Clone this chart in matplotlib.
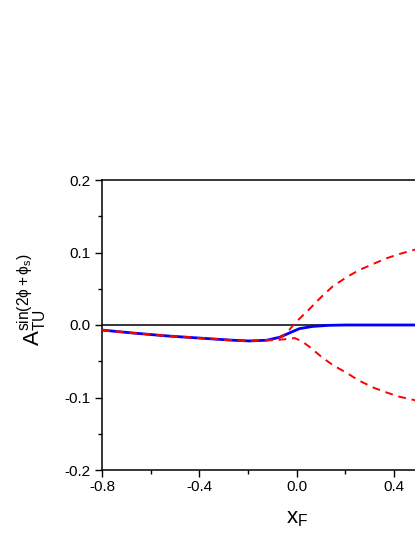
import matplotlib
matplotlib.use("Agg")
import matplotlib.pyplot as plt
from matplotlib.ticker import MultipleLocator

plt.rcParams['font.family'] = ['Liberation Sans', 'DejaVu Sans']
plt.rcParams['mathtext.fontset'] = 'custom'
plt.rcParams['mathtext.rm'] = 'Liberation Sans'
plt.rcParams['mathtext.it'] = 'Liberation Sans:italic'
plt.rcParams['mathtext.sf'] = 'Liberation Sans'
plt.rcParams['mathtext.fallback'] = 'stixsans'

# data
blue_x = [-0.8, -0.675, -0.535, -0.4, -0.263, -0.193, -0.123, -0.07, -0.029,
          0.012, 0.066, 0.13, 0.2, 0.3, 0.4, 0.52]
blue_y = [-0.007, -0.011, -0.015, -0.018, -0.021, -0.022, -0.021, -0.017, -0.011,
          -0.005, -0.002, -0.0005, 0.0, 0.0, 0.0, 0.0]

upper_x = [-0.8, -0.675, -0.535, -0.4, -0.263, -0.193, -0.123, -0.09, -0.06, -0.03,
           -0.008, 0.053, 0.103, 0.148, 0.206, 0.259, 0.321, 0.37, 0.424, 0.477, 0.52]
upper_y = [-0.007, -0.011, -0.015, -0.018, -0.021, -0.022, -0.021, -0.020, -0.016, -0.007,
           0.002, 0.022, 0.039, 0.053, 0.066, 0.076, 0.085, 0.092, 0.098, 0.103, 0.107]

lower_x = [-0.8, -0.675, -0.535, -0.4, -0.263, -0.193, -0.123, -0.09, -0.06, -0.03,
           -0.008, 0.02, 0.053, 0.103, 0.148, 0.206, 0.259, 0.321, 0.37, 0.424, 0.477, 0.52]
lower_y = [-0.007, -0.011, -0.015, -0.018, -0.021, -0.022, -0.021, -0.021, -0.020, -0.019,
           -0.018, -0.022, -0.030, -0.044, -0.055, -0.066, -0.077, -0.087, -0.093, -0.099, -0.103, -0.106]

xticks = [-0.8, -0.4, 0.0, 0.4]
yticks = [-0.2, -0.1, 0.0, 0.1, 0.2]

fig = plt.figure(figsize=(4.15, 5.37), dpi=100)
ax = fig.add_axes([102/415, 67/537, 389/415, 290/537])

ax.axhline(0, color='black', lw=1.1, zorder=1)
ax.plot(blue_x, blue_y, color='#0000ff', lw=2.0, zorder=2)
ax.plot(upper_x, upper_y, color='#ff0000', lw=1.4, ls=(0, (4, 3)), zorder=3)
ax.plot(lower_x, lower_y, color='#ff0000', lw=1.4, ls=(0, (4, 3)), zorder=3)

ax.set_xlim(-0.8, 0.8)
ax.set_ylim(-0.2, 0.2)
ax.set_xticks(xticks)
ax.set_xticklabels([f"{v:.1f}" for v in xticks])
ax.set_yticks(yticks)
ax.set_yticklabels([f"{v:.1f}" for v in yticks])
ax.xaxis.set_minor_locator(MultipleLocator(0.2))
ax.yaxis.set_minor_locator(MultipleLocator(0.05))
ax.tick_params(which='major', direction='out', length=5, width=1.0, labelsize=11, pad=2.5)
ax.tick_params(which='minor', direction='out', length=3, width=1.0)
ax.tick_params(axis='y', which='major', pad=3.5)
for s in ax.spines.values():
    s.set_linewidth(1.1)

ax.set_xlabel(r'$\mathregular{x_F}$', fontsize=16, labelpad=10)
ax.xaxis.set_label_coords((297 - 102) / 389, -0.13)
fig.text(32/415, 1 - 300/537, r'$\mathregular{A_{TU}^{sin(2\phi+\phi_s)}}$',
         rotation=90, ha='center', va='center', fontsize=16)

fig.savefig('out.png', dpi=100)
